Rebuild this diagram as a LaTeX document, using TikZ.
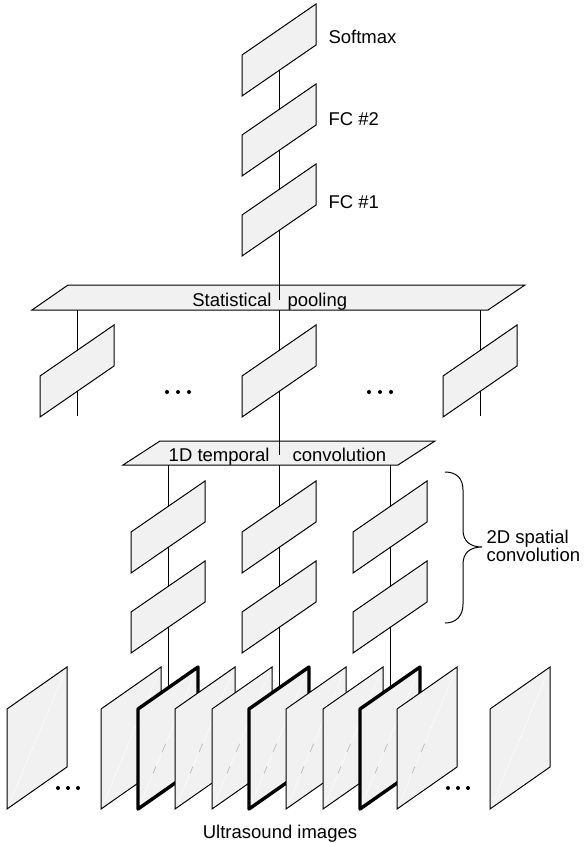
\documentclass[tikz,border=0pt]{standalone}
\usepackage{fontspec}
\setmainfont{Liberation Sans}
\definecolor{boxfill}{RGB}{241,241,241}
\tikzset{
  fmap/.pic={\draw[fill=boxfill] (37,-46) -- (37,-5) -- (-37,46) -- (-37,5) -- cycle;},
  uimg/.pic={\draw[fill=boxfill,pic actions] (-30,-29) -- (-30,71) -- (30,29) -- (30,-71) -- cycle;
             \draw[white,line width=0.4pt] (-27,64) -- (27,-64);},
  imgmarks/.pic={\draw[gray!70,line width=0.5pt] (-15,35.5) -- (-12,28.4) (-6,14.2) -- (-2.4,5.7);},
  thickframe/.style={line width=3.4pt,line join=round},
  lbl/.style={inner sep=0pt,font=\fontsize{18.5}{18.5}\selectfont},
  dotmark/.style={fill=black,draw=none},
  bigbox/.style={draw,fill=boxfill,line join=miter}
}
\begin{document}
\begin{tikzpicture}[x=1pt,y=-1pt,line width=1pt]
\useasboundingbox (0,0) rectangle (585,843);
% coordinates
\coordinate (softmax) at (279,50);
\coordinate (fc2) at (279,130);
\coordinate (fc1) at (279,210);
\coordinate (pooltick) at (279,300);
\coordinate (poolL) at (77,310);
\coordinate (poolC) at (279,310);
\coordinate (poolR) at (480,310);
\coordinate (midL) at (77,371);
\coordinate (midC) at (279,371);
\coordinate (midR) at (480,371);
\coordinate (midLend) at (77,416);
\coordinate (midRend) at (480,416);
\coordinate (temptick) at (279,455);
\coordinate (tempA) at (168,465);
\coordinate (tempB) at (279,465);
\coordinate (tempC) at (390,465);
\coordinate (spA1) at (168,527);
\coordinate (spB1) at (279,527);
\coordinate (spC1) at (390,527);
\coordinate (spA2) at (168,607);
\coordinate (spB2) at (279,607);
\coordinate (spC2) at (390,607);
\coordinate (imA) at (168,738);
\coordinate (imB) at (279,738);
\coordinate (imC) at (390,738);
% big boxes
\path[bigbox] (32,310) -- (68,285) -- (525,285) -- (488,310) -- cycle;
\path[bigbox] (123,465) -- (160,441) -- (435,441) -- (398,465) -- cycle;
% connectors
\draw (softmax) -- (pooltick);
\draw (poolL) -- (midLend);
\draw (poolR) -- (midRend);
\draw (poolC) -- (temptick);
\draw (tempA) -- (imA);
\draw (tempB) -- (imB);
\draw (tempC) -- (imC);
% small feature maps
\foreach \c in {softmax,fc2,fc1,midL,midC,midR,spA1,spB1,spC1,spA2,spB2,spC2}
  \pic at (\c) {fmap};
% ultrasound images
\pic at (37,738) {uimg};
\foreach \x/\t in {131/0,168/1,205/0,242/0,279/1,316/0,353/0,390/1,427/0}{
  \ifnum\t=1
    \pic[thickframe] at (\x,738) {uimg};
  \else
    \pic at (\x,738) {uimg};
  \fi
  \ifnum\x>131 \pic at (\x,738) {imgmarks};\fi
}
\pic at (520,738) {uimg};
% dots
\foreach \x in {167,178,189,369,380,391} \fill[dotmark] (\x,392) circle (2pt);
\foreach \x in {58,68,78,448,458,468} \fill[dotmark] (\x,788) circle (2pt);
% brace
\draw (445,472) .. controls (456,472) and (463,478) .. (463,490) -- (463,530)
  .. controls (463,541) and (470,547) .. (482,547)
  .. controls (470,547) and (463,553) .. (463,564) -- (463,604)
  .. controls (463,616) and (456,623) .. (445,623);
% labels
\node[lbl,anchor=base west] (tsoft) at (328,44) {Softmax};
\node[lbl,anchor=base west] (tfc2) at (328,125) {FC \#2};
\node[lbl,anchor=base west] (tfc1) at (328,208) {FC \#1};
\node[lbl,anchor=base east] (tstat) at (272,306) {Statistical};
\node[lbl,anchor=base west] (tpool) at (287,306) {pooling};
\node[lbl,anchor=base east] (t1d) at (270,461) {1D temporal};
\node[lbl,anchor=base west] (tconv) at (292,461) {convolution};
\node[lbl,anchor=base west] (t2d) at (486,543) {2D spatial};
\node[lbl,anchor=base west] (t2dc) at (486,561) {convolution};
\node[lbl,anchor=base] (tus) at (280,838) {Ultrasound images};
\end{tikzpicture}
\end{document}
